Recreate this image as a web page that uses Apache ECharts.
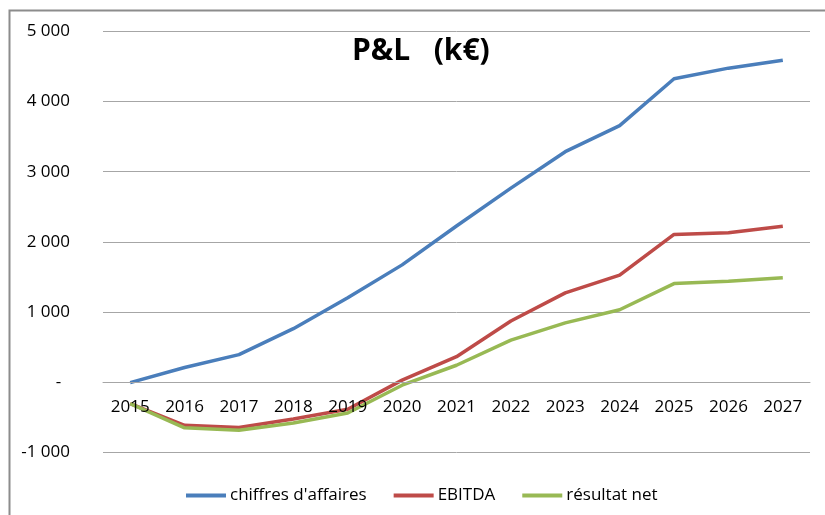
<!DOCTYPE html>
<html>
<head>
<meta charset="utf-8">
<script src="https://cdn.jsdelivr.net/npm/echarts@6/dist/echarts.min.js"></script>
<style>html,body{margin:0;padding:0;background:#fff;}#chart{width:825px;height:515px;}</style>
</head>
<body>
<div id="chart"></div>
<script>
const years = ['2015','2016','2017','2018','2019','2020','2021','2022','2023','2024','2025','2026','2027'];
const chiffresAffaires = [-10, 205, 390, 760, 1200, 1670, 2225, 2765, 3285, 3657, 4326, 4477, 4591];
const ebitda = [-310, -620, -650, -530, -390, 25, 360, 870, 1270, 1524, 2105, 2130, 2222];
const resultatNet = [-310, -655, -690, -585, -443, -47, 238, 596, 843, 1030, 1403, 1436, 1486];
const seriesNames = ['chiffres d\'affaires', 'EBITDA', 'résultat net'];
const titleText = 'P&L   (k€)';

const font = 'Open Sans';
const chart = echarts.init(document.getElementById('chart'));
function fmt(v) {
  if (v === 0) return '-  ';
  const s = Math.abs(v).toString().replace(/\B(?=(\d{3})+(?!\d))/g, ' ');
  return (v < 0 ? '-' : '') + s;
}
const gridTop = 31.5, gridBottom = 63, yMin = -1000, yMax = 5000;
const plotH = 515 - gridTop - gridBottom;
const zeroOffset = -plotH * (0 - yMin) / (yMax - yMin);
chart.setOption({
  animation: false,
  backgroundColor: '#fff',
  title: {
    text: titleText,
    left: 347, top: 31,
    textStyle: { fontFamily: font, fontWeight: 'bold', fontSize: 30, color: '#000' }
  },
  graphic: [{
    type: 'rect', left: 7, top: 8, silent: true,
    shape: { width: 900, height: 600 },
    style: { fill: 'none', stroke: '#8c8c8c', lineWidth: 2 }
  }],
  legend: {
    data: seriesNames,
    left: 181, top: 482,
    icon: 'rect', itemWidth: 40, itemHeight: 4, itemGap: 27,
    textStyle: { fontFamily: font, fontSize: 17, color: '#000', padding: [0, 0, 0, -1] }
  },
  grid: { left: 103, right: 15, top: gridTop, bottom: gridBottom },
  xAxis: {
    type: 'category', data: years, boundaryGap: true,
    offset: zeroOffset, zlevel: 1,
    axisLine: { onZero: false, lineStyle: { color: '#a6a6a6', width: 1 } },
    axisTick: { show: false },
    axisLabel: { fontFamily: font, fontSize: 17, color: '#000', margin: 17 }
  },
  yAxis: {
    type: 'value', min: yMin, max: yMax, interval: 1000,
    axisLine: { show: false }, axisTick: { show: false },
    splitLine: { lineStyle: { color: '#a6a6a6', width: 1 } },
    axisLabel: { fontFamily: font, fontSize: 17, color: '#000', margin: 33, formatter: fmt }
  },
  series: [
    { name: seriesNames[0], type: 'line', data: chiffresAffaires, symbol: 'none', lineStyle: { width: 3.5, color: '#4a7ebb' }, itemStyle: { color: '#4a7ebb' } },
    { name: seriesNames[1], type: 'line', data: ebitda, symbol: 'none', lineStyle: { width: 3.5, color: '#be4b48' }, itemStyle: { color: '#be4b48' } },
    { name: seriesNames[2], type: 'line', data: resultatNet, symbol: 'none', lineStyle: { width: 3.5, color: '#98b954' }, itemStyle: { color: '#98b954' } }
  ]
});
</script>
</body>
</html>
